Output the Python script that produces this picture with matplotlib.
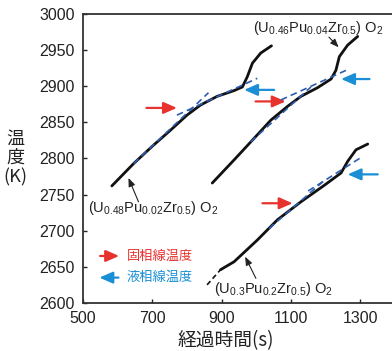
import matplotlib
matplotlib.use("Agg")
import matplotlib.pyplot as plt

plt.rcParams['font.family'] = ['Liberation Sans', 'Noto Sans CJK JP']
plt.rcParams['mathtext.fontset'] = 'custom'
plt.rcParams['mathtext.rm'] = 'Liberation Sans'
plt.rcParams['mathtext.it'] = 'Liberation Sans'

# (U0.48Pu0.02Zr0.5)O2
t1 = [583, 646, 700, 752, 800, 839, 887, 936, 960, 974, 989, 1013, 1044]
T1 = [2762, 2793, 2817, 2839, 2860, 2874, 2886, 2894, 2899, 2913, 2932, 2946, 2956]
# (U0.46Pu0.04Zr0.5)O2
t2 = [873, 936, 994, 1042, 1090, 1129, 1177, 1216, 1230, 1240, 1264, 1293]
T2 = [2766, 2798, 2828, 2853, 2872, 2886, 2898, 2910, 2922, 2941, 2957, 2969]
# (U0.3Pu0.2Zr0.5)O2
t3 = [897, 936, 1003, 1061, 1129, 1197, 1245, 1264, 1288, 1322]
T3 = [2646, 2657, 2687, 2715, 2740, 2763, 2780, 2796, 2812, 2820]
t3_ext = [858, 897]
T3_ext = [2625, 2646]

# fitted lines (solidus / liquidus)
fit_sol = [([646, 862], [2793, 2891]), ([984, 1158], [2823, 2899]), ([1037, 1200], [2703, 2771])]
fit_liq = [([771, 1003], [2860, 2911]), ([1071, 1259], [2881, 2922]), ([1150, 1308], [2755, 2803])]

# arrows: (t_start, t_end, T)
red_arrows = [(683, 771, 2870), (998, 1085, 2879), (1018, 1105, 2738)]
blue_arrows = [(1052, 965, 2895), (1327, 1245, 2910), (1351, 1264, 2778)]

ylabel_parts = ['温', '度', '(K)']

red = '#e8322e'
blue = '#1a8fd6'
dash_blue = '#2e5db0'
ink = '#222222'
cjk = ['Noto Sans CJK JP']

fig = plt.figure(figsize=(3.92, 3.51), dpi=100)
ax = fig.add_axes([0.212, 0.137, 0.795, 0.823])

for t, T in [(t1, T1), (t2, T2), (t3, T3)]:
    ax.plot(t, T, color='#111111', lw=2.0, solid_capstyle='round', zorder=3)
ax.plot(t3_ext, T3_ext, color='#111111', lw=1.2, ls=(0, (3, 2)), zorder=3)

for (x, y) in fit_sol + fit_liq:
    ax.plot(x, y, color=dash_blue, lw=1.2, ls=(0, (4, 2.5)), zorder=4)

big_head = '-|>,head_length=0.8,head_width=0.35'
for x0, x1, y in red_arrows:
    ax.annotate('', xy=(x1, y), xytext=(x0, y),
                arrowprops=dict(arrowstyle=big_head, color=red, lw=1.6, shrinkA=0, shrinkB=0))
for x0, x1, y in blue_arrows:
    ax.annotate('', xy=(x1, y), xytext=(x0, y),
                arrowprops=dict(arrowstyle=big_head, color=blue, lw=1.6, shrinkA=0, shrinkB=0))

# labels of compositions
lab_kw = dict(fontsize=10.5, color=ink, ha='center', va='center')
small_head = '-|>,head_length=0.5,head_width=0.2'
ax.text(703, 2731, '(U$_{0.48}$Pu$_{0.02}$Zr$_{0.5}$) O$_2$', **lab_kw)
ax.annotate('', xy=(631, 2773), xytext=(660, 2740),
            arrowprops=dict(arrowstyle=small_head, color=ink, lw=0.8, shrinkA=0, shrinkB=0))
ax.text(1178, 2981, '(U$_{0.46}$Pu$_{0.04}$Zr$_{0.5}$) O$_2$', **lab_kw)
ax.annotate('', xy=(1238, 2954), xytext=(1210, 2968),
            arrowprops=dict(arrowstyle=small_head, color=ink, lw=0.8, shrinkA=0, shrinkB=0))
ax.text(1051, 2619, '(U$_{0.3}$Pu$_{0.2}$Zr$_{0.5}$) O$_2$', **lab_kw)
ax.annotate('', xy=(968, 2664), xytext=(999, 2634),
            arrowprops=dict(arrowstyle=small_head, color=ink, lw=0.8, shrinkA=0, shrinkB=0))

# legend
ax.annotate('', xy=(604, 2665), xytext=(549, 2665),
            arrowprops=dict(arrowstyle=big_head, color=red, lw=1.6, shrinkA=0, shrinkB=0))
ax.text(625, 2665, '固相線温度', color=red, fontsize=9.5, va='center', ha='left', family=cjk)
ax.annotate('', xy=(547, 2635), xytext=(602, 2635),
            arrowprops=dict(arrowstyle=big_head, color=blue, lw=1.6, shrinkA=0, shrinkB=0))
ax.text(625, 2635, '液相線温度', color=blue, fontsize=9.5, va='center', ha='left', family=cjk)

ax.set_xlim(500, 1400)
ax.set_ylim(2600, 3000)
ax.set_xticks([500, 700, 900, 1100, 1300])
ax.set_yticks(range(2600, 3001, 50))
ax.tick_params(direction='in', length=3, width=1, labelsize=11.5, colors=ink)
ax.tick_params(axis='x', pad=6)
ax.tick_params(axis='y', pad=6)
for s in ['left', 'bottom', 'top']:
    ax.spines[s].set_linewidth(1.3)
    ax.spines[s].set_color('#333333')
ax.spines['right'].set_visible(False)

# vertical stacked y label
for i, part in enumerate(ylabel_parts):
    fig.text(0.04, 1 - (139 + 19 * i) / 351, part, fontsize=13, ha='center', va='center',
             color=ink, family=cjk)
fig.text(0.575, 0.03, '経過時間(s)', fontsize=13.5, ha='center', va='center', color=ink, family=cjk)

fig.savefig('out.png', dpi=100)
